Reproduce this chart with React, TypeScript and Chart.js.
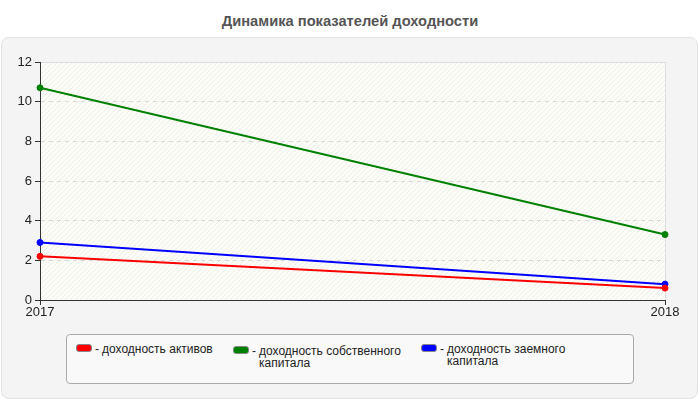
import React, { useEffect, useRef } from "react";
import { Chart, registerables } from "chart.js";

Chart.register(...registerables);

const categories = ["2017", "2018"];
const seriesNames = [
  "доходность активов",
  "доходность собственного капитала",
  "доходность заемного капитала",
];
const assetsReturn = [2.2, 0.6];
const equityReturn = [10.7, 3.3];
const debtReturn = [2.9, 0.8];
const seriesColors = ["#ff0000", "#008000", "#0000ff"];
const yMin = 0;
const yMax = 12;
const yStep = 2;
const title = "Динамика показателей доходности";

const FONT = "'Liberation Sans', Arial, sans-serif";

const plotBgPlugin = {
  id: "plotBg",
  beforeDraw(chart: any) {
    const { ctx, chartArea } = chart;
    const { left, top, right, bottom } = chartArea;
    ctx.save();
    ctx.fillStyle = "#fdfdf8";
    ctx.fillRect(left, top, right - left, bottom - top);
    const p = document.createElement("canvas");
    p.width = 5;
    p.height = 5;
    const pc = p.getContext("2d")!;
    pc.strokeStyle = "rgba(205,205,205,0.35)";
    pc.lineWidth = 1;
    pc.beginPath();
    pc.moveTo(0, 5);
    pc.lineTo(5, 0);
    pc.stroke();
    const pat = ctx.createPattern(p, "repeat");
    if (pat) {
      ctx.fillStyle = pat;
      ctx.fillRect(left, top, right - left, bottom - top);
    }
    ctx.strokeStyle = "#dcdcdc";
    ctx.lineWidth = 1;
    ctx.beginPath();
    ctx.moveTo(left, Math.round(top) + 0.5);
    ctx.lineTo(right, Math.round(top) + 0.5);
    ctx.stroke();
    ctx.restore();
  },
};

function ChartCanvas() {
  const ref = useRef<HTMLCanvasElement | null>(null);
  useEffect(() => {
    if (!ref.current) return;
    const data = [assetsReturn, equityReturn, debtReturn];
    const chart = new Chart(ref.current, {
      type: "line",
      data: {
        labels: categories,
        datasets: data.map((d, i) => ({
          label: seriesNames[i],
          data: d,
          borderColor: seriesColors[i],
          backgroundColor: seriesColors[i],
          pointBackgroundColor: seriesColors[i],
          pointBorderColor: seriesColors[i],
          borderWidth: 2,
          pointRadius: 3,
          pointBorderWidth: 1,
          tension: 0,
          fill: false,
        })),
      },
      options: {
        responsive: false,
        animation: false,
        layout: { padding: { top: 62, right: 35, left: 0, bottom: 0 } },
        plugins: {
          legend: { display: false },
          title: { display: false },
          tooltip: { enabled: false },
        },
        scales: {
          x: {
            type: "category",
            offset: false,
            afterFit(scale: any) {
              scale.height = 100;
            },
            grid: {
              display: true,
              color: "#dcdcdc",
              lineWidth: 1,
              drawTicks: true,
              tickLength: 5,
              tickColor: "#333",
            },
            border: { display: true, color: "#333", width: 1 },
            ticks: {
              color: "#222",
              font: { family: FONT, size: 13 },
              padding: 0,
              maxRotation: 0,
            },
          },
          y: {
            min: yMin,
            max: yMax,
            afterFit(scale: any) {
              scale.width = 40;
            },
            grid: {
              display: true,
              color: (c: any) => (c.tick && c.tick.value === yMax ? "rgba(0,0,0,0)" : "#d8d8d8"),
              lineWidth: 1,
              drawTicks: true,
              tickLength: 5,
              tickColor: "#333",
              tickBorderDash: [],
            },
            border: { display: true, color: "#333", width: 1, dash: [4, 4] },
            ticks: {
              stepSize: yStep,
              color: "#222",
              font: { family: FONT, size: 13 },
              padding: 3,
            },
          },
        },
      },
      plugins: [plotBgPlugin],
    } as any);
    return () => chart.destroy();
  }, []);
  return (
    <canvas
      ref={ref}
      width={700}
      height={400}
      style={{ position: "absolute", left: 0, top: 0, width: 700, height: 400 }}
    />
  );
}

const legendLayout = [
  { left: 76, top: 343, swTop: 1, textWidth: 130 },
  { left: 233, top: 345, swTop: 1, textWidth: 150 },
  { left: 421, top: 343, swTop: 1, textWidth: 125 },
];

export default function App() {
  return (
    <div
      style={{
        position: "fixed",
        left: 0,
        top: 0,
        width: 700,
        height: 400,
        background: "#fff",
        fontFamily: FONT,
        overflow: "hidden",
      }}
    >
      <div
        style={{
          position: "absolute",
          left: 0,
          top: 13,
          width: 700,
          textAlign: "center",
          fontWeight: "bold",
          fontSize: 14.7,
          lineHeight: "17px",
          color: "#555",
        }}
      >
        {title}
      </div>
      <div
        style={{
          position: "absolute",
          left: 1,
          top: 37,
          width: 695,
          height: 360,
          background: "#f4f4f4",
          border: "1px solid #e2e2e2",
          borderRadius: 8,
        }}
      />
      <ChartCanvas />
      <div
        style={{
          position: "absolute",
          left: 66,
          top: 334,
          width: 566,
          height: 48,
          background: "#f9f9f9",
          border: "1px solid #aaa",
          borderRadius: 4,
        }}
      />
      {seriesNames.map((name, i) => (
        <div
          key={name}
          style={{
            position: "absolute",
            left: legendLayout[i].left,
            top: legendLayout[i].top,
            display: "flex",
            alignItems: "flex-start",
            fontSize: 12,
            lineHeight: "12px",
            color: "#222",
          }}
        >
          <span
            style={{
              display: "inline-block",
              width: 14,
              height: 6,
              marginTop: legendLayout[i].swTop,
              background: seriesColors[i],
              border: "1px solid #888",
              borderRadius: 3,
            }}
          />
          <span style={{ marginLeft: 3, marginRight: 3 }}>-</span>
          <span style={{ width: legendLayout[i].textWidth }}>{name}</span>
        </div>
      ))}
    </div>
  );
}
